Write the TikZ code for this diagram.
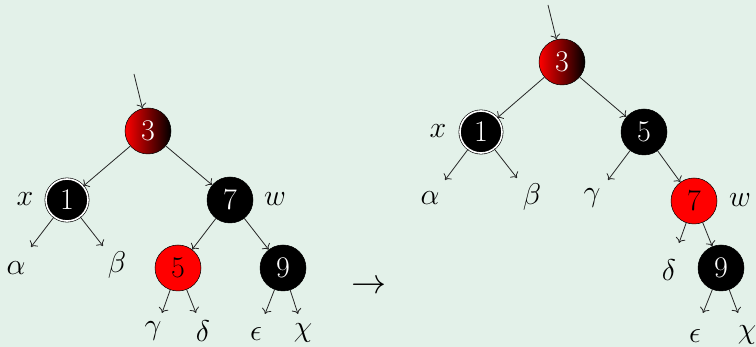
\RequirePackage{fix-cm}
\documentclass[tikz,border=0pt]{standalone}
\usetikzlibrary{arrows.meta}
\definecolor{bg}{RGB}{227,241,233}
\begin{document}
\begin{tikzpicture}[x=1pt,y=-1pt,
  every node/.style={font=\fontsize{30}{36}\selectfont},
  rbnode/.style={circle, minimum size=46pt, inner sep=0pt, draw=black, line width=0.5pt},
  blk/.style={rbnode, fill=black, text=white},
  red/.style={rbnode, fill=red, text=black},
  shd/.style={rbnode, left color=red, right color=black, text=white},
  dbl/.style={circle, minimum size=42pt, inner sep=0pt, fill=black, text=white, draw=black, double=white, double distance=1.6pt, line width=0.6pt},
  lbl/.style={inner sep=0pt},
  edge/.style={-{To[length=5pt,width=10pt,line width=0.8pt]}, line width=0.8pt, draw=black!85}]
\fill[bg] (0,0) rectangle (756,347);
\useasboundingbox (0,0) rectangle (756,347);
% left tree
\node[shd] (L3) at (148,131) {3};
\node[dbl] (L1) at (67,200) {1};
\node[blk] (L7) at (230,200) {7};
\node[red] (L5) at (178,268) {5};
\node[blk] (L9) at (283,268) {9};
\coordinate (Lin) at (134,74);
\coordinate (L1a) at (31,247);
\coordinate (L1b) at (103,246);
\coordinate (L5a) at (162,313);
\coordinate (L5b) at (196,313);
\coordinate (L9a) at (265,314);
\coordinate (L9b) at (298,314);
\node[lbl] (Lx) at (25,199) {$x$};
\node[lbl] (Lw) at (275,199) {$w$};
\node[lbl] (Lal) at (16,268) {$\alpha$};
\node[lbl] (Lbe) at (117,265) {$\beta$};
\node[lbl] (Lga) at (153,331) {$\gamma$};
\node[lbl] (Lde) at (203,331) {$\delta$};
\node[lbl] (Lep) at (256,334) {$\epsilon$};
\node[lbl] (Lch) at (303,333) {$\chi$};
\draw[edge] (Lin) -- (L3);
\draw[edge] (L3) -- (L1);
\draw[edge] (L3) -- (L7);
\draw[edge] (L7) -- (L5);
\draw[edge] (L7) -- (L9);
\draw[edge] (L1) -- (L1a);
\draw[edge] (L1) -- (L1b);
\draw[edge] (L5) -- (L5a);
\draw[edge] (L5) -- (L5b);
\draw[edge] (L9) -- (L9a);
\draw[edge] (L9) -- (L9b);
% arrow
\node[font=\fontsize{35}{40}\selectfont] (arr) at (369,287) {$\rightarrow$};
% right tree
\node[shd] (R3) at (562,62) {3};
\node[dbl] (R1) at (481,132) {1};
\node[blk] (R5) at (644,132) {5};
\node[red] (R7) at (694,201) {7};
\node[blk] (R9) at (721,268) {9};
\coordinate (Rin) at (548,5);
\coordinate (R1a) at (445,180);
\coordinate (R1b) at (517,178);
\coordinate (R5a) at (608,180);
\coordinate (R7a) at (679,243);
\coordinate (R9a) at (703,313);
\coordinate (R9b) at (738,313);
\node[lbl] (Rx) at (438,131) {$x$};
\node[lbl] (Rw) at (740,200) {$w$};
\node[lbl] (Ral) at (430,198) {$\alpha$};
\node[lbl] (Rbe) at (532,197) {$\beta$};
\node[lbl] (Rga) at (592,198) {$\gamma$};
\node[lbl] (Rde) at (669,270) {$\delta$};
\node[lbl] (Rep) at (695,336) {$\epsilon$};
\node[lbl] (Rch) at (747,335) {$\chi$};
\draw[edge] (Rin) -- (R3);
\draw[edge] (R3) -- (R1);
\draw[edge] (R3) -- (R5);
\draw[edge] (R5) -- (R7);
\draw[edge] (R7) -- (R9);
\draw[edge] (R1) -- (R1a);
\draw[edge] (R1) -- (R1b);
\draw[edge] (R5) -- (R5a);
\draw[edge] (R7) -- (R7a);
\draw[edge] (R9) -- (R9a);
\draw[edge] (R9) -- (R9b);
\end{tikzpicture}
\end{document}
